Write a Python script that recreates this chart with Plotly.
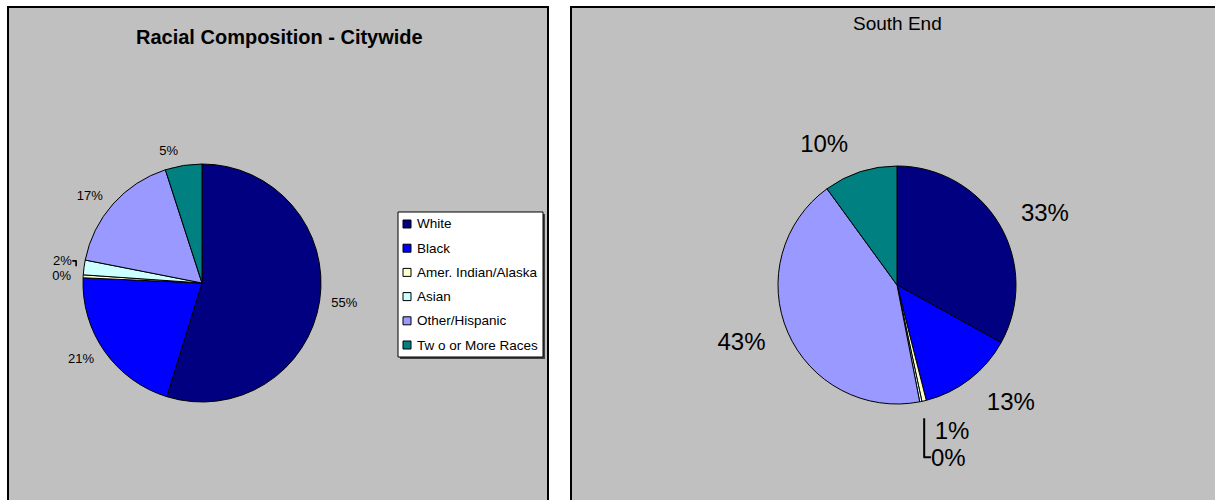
import plotly.graph_objects as go

W, H = 1215, 500

categories = ["White", "Black", "Amer. Indian/Alaska", "Asian", "Other/Hispanic", "Tw o or More Races"]
colors = ["#000080", "#0000FF", "#FFFFCC", "#CCFFFF", "#9999FF", "#008080"]

citywide_pct = [55, 21, 0.4, 2, 17, 5]
south_end_pct = [33, 13, 0.6, 0.3, 43, 10]

FONT = "Arial, 'Liberation Sans', sans-serif"
BG = "#C0C0C0"


def px(x):
    return x / W


def py(y):
    return 1 - y / H


def domain(cx, cy, r):
    return dict(x=[px(cx - r), px(cx + r)], y=[py(cy + r), py(cy - r)])


def add_pie(fig, values, cx, cy, r, label_gap, font_size):
    # the visible pie
    fig.add_trace(go.Pie(
        labels=categories, values=values, sort=False, direction="clockwise",
        marker=dict(colors=colors, line=dict(color="black", width=1)),
        textinfo="none", domain=domain(cx, cy, r),
        showlegend=False, hoverinfo="label+percent",
    ))
    # a transparent, slightly larger copy that carries the percentage labels
    fig.add_trace(go.Pie(
        labels=categories, values=values, sort=False, direction="clockwise",
        marker=dict(colors=["rgba(0,0,0,0)"] * len(values), line=dict(width=0)),
        texttemplate="%{percent:.0%}", textposition="outside",
        textfont=dict(family=FONT, size=font_size, color="black"),
        domain=domain(cx, cy, r + label_gap),
        showlegend=False, hoverinfo="skip",
    ))


fig = go.Figure()
add_pie(fig, citywide_pct, 202, 283, 119, 8, 13)
add_pie(fig, south_end_pct, 897, 285, 119, 17, 24)

shapes = [
    # chart area panels
    dict(type="rect", xref="paper", yref="paper", x0=px(8), x1=px(548), y0=py(520), y1=py(7),
         fillcolor=BG, line=dict(color="black", width=2), layer="below"),
    dict(type="rect", xref="paper", yref="paper", x0=px(571), x1=px(1240), y0=py(520), y1=py(7),
         fillcolor=BG, line=dict(color="black", width=2), layer="below"),
    # legend shadow and box
    dict(type="rect", xref="paper", yref="paper", x0=px(400), x1=px(545), y0=py(359), y1=py(214),
         fillcolor="#404040", line=dict(width=0), layer="below"),
    dict(type="rect", xref="paper", yref="paper", x0=px(398), x1=px(543), y0=py(357), y1=py(212),
         fillcolor="white", line=dict(color="black", width=1), layer="below"),
]

annotations = [
    dict(text="<b>Racial Composition - Citywide</b>", x=px(279), y=py(37), xref="paper", yref="paper",
         showarrow=False, font=dict(family=FONT, size=20, color="black"), xanchor="center", yanchor="middle"),
    dict(text="South End", x=px(897), y=py(23), xref="paper", yref="paper",
         showarrow=False, font=dict(family=FONT, size=19, color="black"), xanchor="center", yanchor="middle"),
]

# legend entries
row0, step = 224, 24.2
for i, (name, c) in enumerate(zip(categories, colors)):
    yc = row0 + i * step
    shapes.append(dict(type="rect", xref="paper", yref="paper",
                       x0=px(403), x1=px(411), y0=py(yc + 4), y1=py(yc - 4),
                       fillcolor=c, line=dict(color="black", width=1)))
    annotations.append(dict(text=name, x=px(415), y=py(yc), xref="paper", yref="paper",
                            showarrow=False, xanchor="left", yanchor="middle",
                            font=dict(family=FONT, size=13.5, color="black")))

fig.update_layout(
    width=W, height=H, margin=dict(l=0, r=0, t=0, b=0),
    paper_bgcolor="white", plot_bgcolor="white",
    shapes=shapes, annotations=annotations,
    font=dict(family=FONT),
)

fig.write_html("out.html")
